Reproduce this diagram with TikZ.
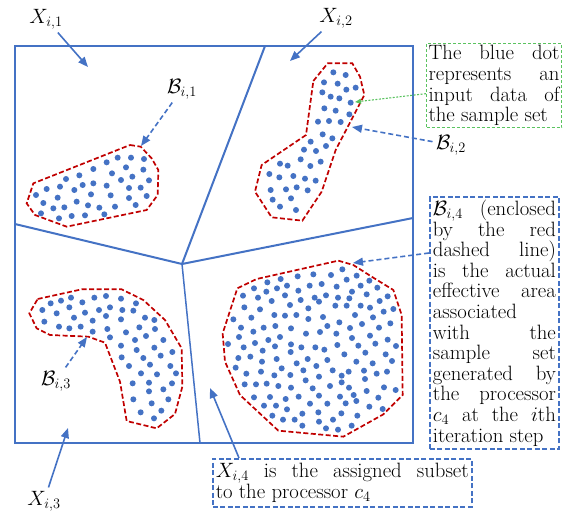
\documentclass[tikz,border=0pt]{standalone}
\usetikzlibrary{arrows.meta}
\definecolor{cellblue}{RGB}{68,114,196}
\definecolor{regred}{RGB}{192,0,0}
\definecolor{notegreen}{RGB}{90,195,95}
\tolerance=9999
\hyphenpenalty=10000
\exhyphenpenalty=10000
\tikzset{
  every node/.style={font=\fontsize{20.74}{20.6}\selectfont},
  cell/.style={cellblue,line width=2pt},
  region/.style={regred,line width=1.7pt,dash pattern=on 5pt off 2.5pt},
  dot/.style={fill=cellblue},
  arr/.style={cellblue,line width=1.6pt,-{Triangle[length=10pt,width=8pt]}},
  darr/.style={arr,dash pattern=on 5pt off 3pt},
  garr/.style={notegreen,line width=1.1pt,dash pattern=on 2pt off 1.5pt,-{Triangle[length=6pt,width=5pt]}},
  gnote/.style={draw=notegreen,line width=1.1pt,dash pattern=on 3pt off 2pt,text width=131pt,align=justify,inner sep=2pt,anchor=north west},
  bnote/.style={draw=cellblue,line width=1.8pt,dash pattern=on 5pt off 2.5pt,align=justify,inner sep=3pt,anchor=north west},
}
\begin{document}
\begin{tikzpicture}[x=1pt,y=-1pt]
\useasboundingbox (0,0) rectangle (569,514);
% cluster B_{i,1}
\begin{scope}[shift={(20,135)},scale=1/3]
\draw[region] (330,30) -- (362,35) -- (395,70) -- (415,105) -- (413,180) -- (380,225) -- (140,275) -- (45,240) -- (20,205) -- (40,145) -- cycle;
\foreach \x/\y in {260/82,293/68,333/68,372/72,220/102,318/97,370/104,138/132,178/121,276/115,303/135,337/125,387/136,
  80/162,120/155,163/165,188/150,220/145,260/152,327/159,362/158,48/180,113/188,213/178,272/181,327/189,380/183,
  70/204,100/220,133/217,170/200,204/211,238/218,285/215,347/210,63/235,117/250,155/243,195/241,253/238}
  \fill[dot] (\x,\y) circle[radius=9];
\end{scope}
% cluster B_{i,2}
\begin{scope}[shift={(245,55)},scale=1/3]
\draw[region] (205,78) -- (248,25) -- (322,25) -- (345,65) -- (358,120) -- (272,285) -- (230,410) -- (172,497) -- (80,487) -- (30,410) -- (50,330) -- (183,240) -- cycle;
\foreach \x/\y in {265/52,302/60,237/82,278/86,304/104,332/98,232/112,257/125,283/130,317/143,238/160,272/167,313/178,
  219/200,252/198,287/201,233/238,262/250,197/260,243/273,177/284,213/288,167/313,227/320,105/326,128/332,196/333,
  73/357,103/367,145/363,180/371,212/377,77/405,123/403,155/397,188/406,83/434,138/430,105/455,153/465}
  \fill[dot] (\x,\y) circle[radius=9];
\end{scope}
% cluster B_{i,3}
\begin{scope}[shift={(0,220)},scale=1/3]
\draw[region] (113,237) -- (245,208) -- (365,208) -- (430,240) -- (495,300) -- (545,385) -- (547,500) -- (525,582) -- (470,625) -- (380,603) -- (360,485) -- (315,368) -- (265,350) -- (150,345) -- (110,325) -- (88,280) -- cycle;
\foreach \x/\y in {152/250,183/242,213/233,247/247,283/233,318/228,363/236,408/250,
  127/270,170/280,208/262,255/278,297/270,330/262,367/270,400/272,
  133/305,222/293,278/302,318/288,363/298,435/293,463/300,
  177/320,208/325,242/320,278/335,322/327,378/337,418/322,465/327,
  330/352,438/348,405/360,490/360,363/377,410/390,463/383,517/396,482/407,430/414,365/412,
  387/438,450/434,511/438,528/460,423/460,471/463,398/490,447/488,516/490,447/514,490/508,
  400/538,455/550,505/538,422/577,484/572,462/595}
  \fill[dot] (\x,\y) circle[radius=9];
\end{scope}
% cluster B_{i,4}
\begin{scope}[shift={(220,255)},scale=1/3]
\draw[region] (355,17) -- (400,30) -- (455,65) -- (520,105) -- (545,180) -- (548,420) -- (490,478) -- (370,545) -- (175,527) -- (60,420) -- (15,320) -- (8,235) -- (52,100) -- (110,72) -- cycle;
\foreach \x/\y in {367/43,182/72,233/64,280/58,333/60,410/62,142/82,380/74,448/77,
  102/100,171/100,201/92,269/92,305/87,350/95,422/92,472/98,139/110,235/107,396/110,440/118,
  69/122,114/128,195/121,284/128,318/121,354/128,388/130,503/124,155/138,242/135,297/140,479/138,
  73/157,120/163,210/150,265/160,346/152,380/152,422/152,450/158,520/162,491/170,
  40/193,94/188,163/180,195/182,229/180,265/192,309/186,405/180,459/187,
  63/218,131/218,166/213,213/220,322/213,358/202,390/219,426/207,477/218,511/205,
  57/246,100/230,145/255,180/246,258/236,300/231,349/236,396/249,450/242,503/254,
  24/267,71/277,105/264,165/274,213/268,244/277,286/277,313/284,352/270,415/272,466/266,528/273,
  128/287,212/291,373/298,436/293,497/298,
  55/309,91/305,126/320,170/312,230/325,263/312,289/333,322/315,409/320,458/325,516/318,
  47/338,79/356,123/350,185/340,250/346,338/346,386/350,432/347,501/350,
  163/361,211/360,297/365,365/362,435/372,470/356,
  74/388,108/388,140/386,175/393,213/398,257/376,278/400,330/393,365/382,387/398,440/408,492/397,527/405,
  102/427,150/426,197/432,236/425,297/422,360/425,401/420,475/428,
  132/452,168/452,201/463,270/446,322/446,377/445,409/438,448/455,488/462,
  157/482,189/494,224/494,247/476,295/472,339/494,364/475,412/482,
  247/512,297/500,318/520,354/524,395/512}
  \fill[dot] (\x,\y) circle[radius=9];
\end{scope}
% partition of X_i
\draw[cell] (15,46) rectangle (413,443);
\coordinate (o) at (182,264);
\draw[cell] (265,46) -- (o) -- (15,224);
\draw[cell] (o) -- (413,218);
\draw[cell,line width=1.5pt] (o) -- (200,443);
% labels
\node (x1) at (46,19) {$X_{i,1}$};
\node (x2) at (336,18) {$X_{i,2}$};
\node (x3) at (44,501) {$X_{i,3}$};
\node (b1) at (182,89) {$\mathcal{B}_{i,1}$};
\node (b2) at (451,145) {$\mathcal{B}_{i,2}$};
\node (b3) at (56,381) {$\mathcal{B}_{i,3}$};
\coordinate (x1t) at (88,67);
\coordinate (x2t) at (290,61);
\coordinate (x3t) at (68,428);
\coordinate (x4t) at (210,388);
\coordinate (b1t) at (141,146);
\coordinate (b2t) at (352,127);
\coordinate (b3t) at (87,337);
\coordinate (b4t) at (353,263);
\coordinate (dott) at (355,102);
% notes
\node[gnote] (dotnote) at (426,43) {The blue dot\linebreak represents an\linebreak input data of\linebreak the sample set};
\node[bnote,text width=123pt] (b4note) at (429,196) {$\mathcal{B}_{i,4}$ (enclosed\linebreak by the red\linebreak dashed line)\linebreak is the actual\linebreak effective area\linebreak associated\linebreak with the\linebreak sample set\linebreak generated by\linebreak the processor\linebreak $c_4$ at the $i$th\linebreak iteration step};
\node[bnote,line width=1.5pt,text width=253pt,inner ysep=4.5pt] (x4note) at (212,458) {$X_{i,4}$ is the assigned subset\linebreak to the processor $c_4$};
% arrows
\draw[arr] (x1) -- (x1t);
\draw[arr] (x2) -- (x2t);
\draw[arr] (x3) -- (x3t);
\draw[arr] ([xshift=27pt]x4note.north west) -- (x4t);
\draw[darr] (b1) -- (b1t);
\draw[darr] (b2) -- (b2t);
\draw[darr] (b3) -- (b3t);
\draw[darr] ([yshift=-57pt]b4note.north west) -- (b4t);
\draw[garr] ([yshift=-8pt]dotnote.west) -- (dott);
\end{tikzpicture}
\end{document}
